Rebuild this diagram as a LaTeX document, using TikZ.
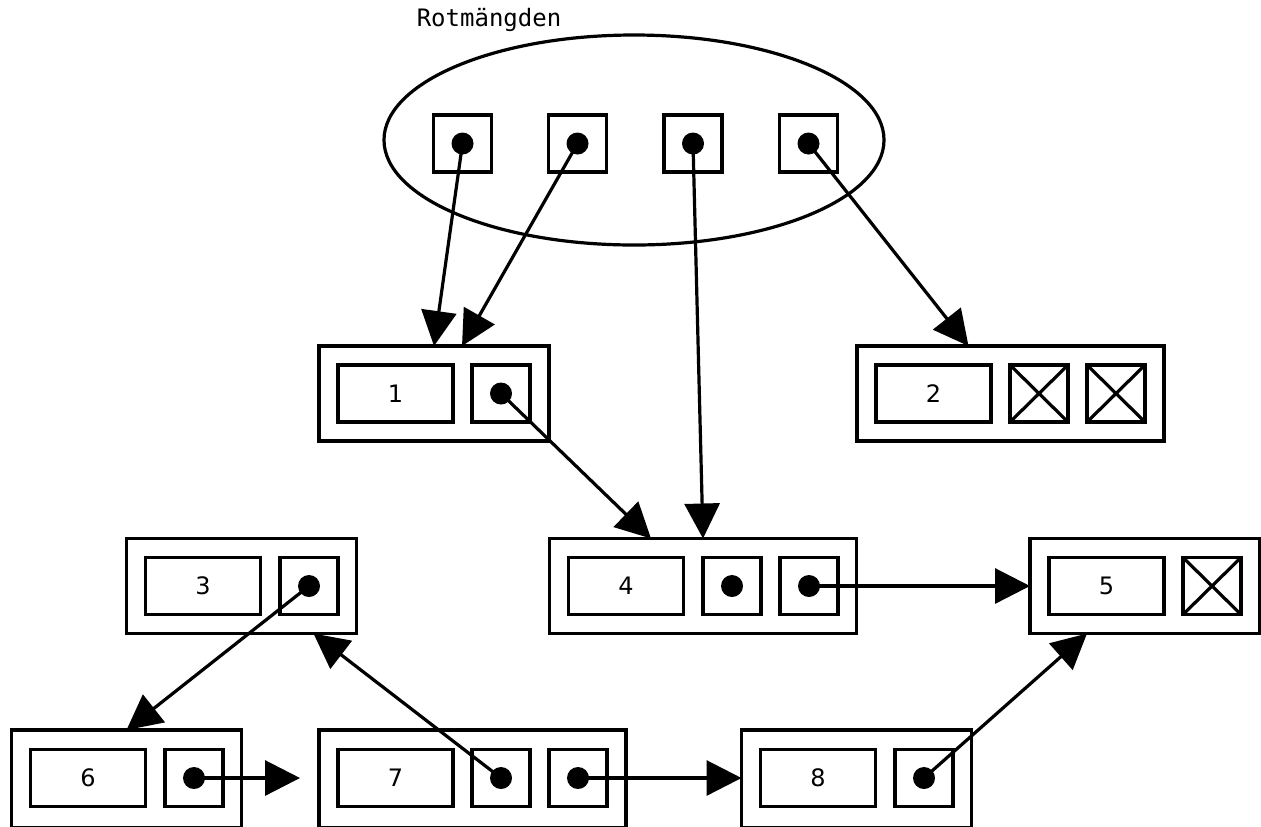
\documentclass[tikz,border=0pt]{standalone}
\usepackage{fontspec}
\setmainfont{DejaVu Sans}
\newfontfamily\monofnt{DejaVu Sans Mono}
\usetikzlibrary{arrows.meta,shapes.geometric}
\tikzset{
  x=0.5pt,y=-0.5pt,
  every node/.style={line width=1.8pt,inner sep=0pt,outer sep=0pt},
  outerbox/.style={draw,rectangle,minimum height=47.5pt},
  lowbox/.style={outerbox,minimum height=49pt},
  valbox/.style={draw,rectangle,minimum width=57.5pt,minimum height=28.5pt,font=\fontsize{12pt}{14pt}\selectfont},
  ptrbox/.style={draw,rectangle,minimum width=29pt,minimum height=28.5pt},
  nilbox/.style={ptrbox,path picture={\draw[line width=1.6pt] (path picture bounding box.north west) -- (path picture bounding box.south east) (path picture bounding box.south west) -- (path picture bounding box.north east);}},
  dot/.style={circle,fill=black,minimum size=11pt},
  ptr/.style={line width=1.6pt,-{Triangle[length=17.5pt,width=17.5pt]}},
}
\begin{document}
\begin{tikzpicture}
\useasboundingbox (0,0) rectangle (1261,826);
% root set
\node[draw,ellipse,line width=1.6pt,minimum width=250pt,minimum height=105pt] (roots) at (634,140) {};
\node[font=\monofnt\fontsize{12pt}{14pt}\selectfont] (rootlabel) at (489,20) {Rotmängden};
\node[ptrbox] (r1) at (462.5,143.5) {}; \node[dot] (r1d) at (r1) {};
\node[ptrbox] (r2) at (577.5,143.5) {}; \node[dot] (r2d) at (r2) {};
\node[ptrbox] (r3) at (693,143.5) {};   \node[dot] (r3d) at (r3) {};
\node[ptrbox] (r4) at (808.5,143.5) {}; \node[dot] (r4d) at (r4) {};
% node 1
\node[outerbox,minimum width=115pt] (n1) at (434,393.5) {};
\node[valbox] (n1v) at (395.5,393.5) {1};
\node[ptrbox] (n1p) at (501,393.5) {}; \node[dot] (n1d) at (n1p) {};
% node 2
\node[outerbox,minimum width=153.5pt] (n2) at (1010.5,393.5) {};
\node[valbox] (n2v) at (933.5,393.5) {2};
\node[nilbox] (n2a) at (1039,393.5) {};
\node[nilbox] (n2b) at (1116,393.5) {};
% node 3
\node[outerbox,minimum width=115pt] (n3) at (241.5,586) {};
\node[valbox] (n3v) at (203,586) {3};
\node[ptrbox] (n3p) at (309,586) {}; \node[dot] (n3d) at (n3p) {};
% node 4
\node[outerbox,minimum width=153.5pt] (n4) at (703,586) {};
\node[valbox] (n4v) at (626,586) {4};
\node[ptrbox] (n4a) at (732,586) {}; \node[dot] (n4ad) at (n4a) {};
\node[ptrbox] (n4p) at (809,586) {}; \node[dot] (n4d) at (n4p) {};
% node 5
\node[outerbox,minimum width=115pt] (n5) at (1145,586) {};
\node[valbox] (n5v) at (1106.5,586) {5};
\node[nilbox] (n5a) at (1212,586) {};
% node 6
\node[lowbox,minimum width=115pt] (n6) at (126.5,779) {};
\node[valbox] (n6v) at (88,778) {6};
\node[ptrbox] (n6p) at (194,778) {}; \node[dot] (n6d) at (n6p) {};
% node 7
\node[lowbox,minimum width=153.5pt] (n7) at (472.5,779) {};
\node[valbox] (n7v) at (395.5,778) {7};
\node[ptrbox] (n7a) at (501,778) {}; \node[dot] (n7ad) at (n7a) {};
\node[ptrbox] (n7p) at (578,778) {}; \node[dot] (n7d) at (n7p) {};
% node 8
\node[lowbox,minimum width=115pt] (n8) at (856.5,779) {};
\node[valbox] (n8v) at (818,778) {8};
\node[ptrbox] (n8p) at (924,778) {}; \node[dot] (n8d) at (n8p) {};
\coordinate (free6) at (300,778);
% connectors
\draw[ptr] (r1d.center) -- (n1.north);
\draw[ptr] (r2d.center) -- ([xshift=14pt]n1.north);
\draw[ptr] (r3d.center) -- (n4.north);
\draw[ptr] (r4d.center) -- ([xshift=-21pt]n2.north);
\draw[ptr] (n1d.center) -- ([xshift=-26pt]n4.north);
\draw[ptr] (n4d.center) -- (n5.west);
\draw[ptr] (n3d.center) -- (n6.north);
\draw[ptr] (n7ad.center) -- ([xshift=36pt]n3.south);
\draw[ptr] (n6d.center) -- (free6);
\draw[ptr] (n7d.center) -- (n8d.center -| n8.west);
\draw[ptr] (n8d.center) -- ([xshift=-29pt]n5.south);
\end{tikzpicture}
\end{document}
